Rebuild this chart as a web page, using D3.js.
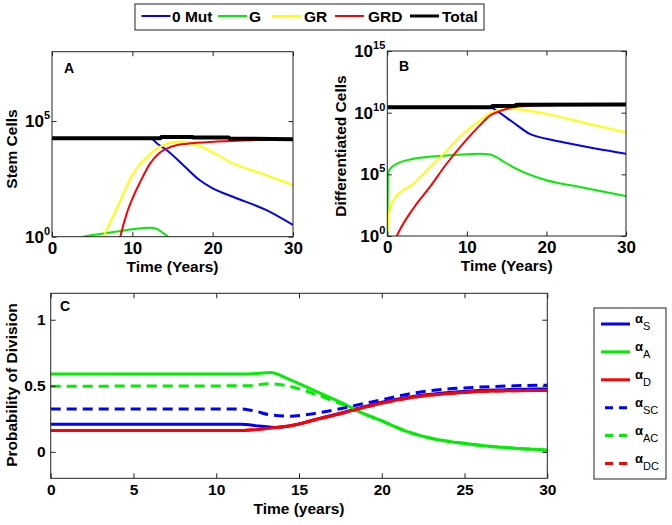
<!DOCTYPE html>
<html><head><meta charset="utf-8">
<script src="https://cdn.jsdelivr.net/npm/d3@7"></script>
<style>
body{margin:0;background:#fff}
svg{display:block}
text{font-family:"Liberation Sans",Arial,Helvetica,sans-serif;font-weight:bold;fill:#000}
</style>
</head><body>
<svg id="chart" width="672" height="525"></svg>
<script>
// ---------------- DATA ----------------
const popNames = ["0 Mut", "G", "GR", "GRD", "Total"];
const timeTicksAB = [0, 10, 20, 30];
const timeTicksC = [0, 5, 10, 15, 20, 25, 30];
const stemTicks = [1, 1e5];
const diffTicks = [1, 1e5, 1e10, 1e15];
const probTicks = [0, 0.5, 1];

// Panel A: stem cells  [year, count]
const stemMut0 = [[0,1.8e4],[12.2,1.8e4],[13.2,1.0e4],[14.3,5.5e3],[16.35,1.23e3],[18.4,275],[20,123],[22.6,52],[26.7,14],[30,3.2]];
const stemG = [[3.6,0.6],[3.9,1],[6,1.3],[8.1,1.66],[10,2.1],[12.2,2.45],[13,2.2],[13.7,1.55],[14.4,1],[14.8,0.6]];
const stemGR = [[6.1,0.6],[6.4,1],[8,15],[10.1,540],[12,3.2e3],[13.4,7.6e3],[14.5,1.1e4],[15.9,1.3e4],[18.4,8.1e3],[22.6,1.45e3],[26.7,457],[30,170]];
const stemGRD = [[8.3,0.5],[8.5,1],[9.3,10],[10.1,52],[11,240],[12.2,1.45e3],[13.3,4e3],[14.3,6.5e3],[15.5,9e3],[16.8,1.05e4],[20.5,1.3e4],[25,1.5e4],[30,1.6e4]];
const stemTotal = [[0,1.8e4],[13.5,1.8e4],[13.6,2.05e4],[17.5,2.05e4],[17.6,1.95e4],[22,1.95e4],[22.1,1.75e4],[30,1.65e4]];

// Panel B: differentiated cells  [year, count]
const diffMut0 = [[0,2.7e10],[13,2.7e10],[13.7,1.45e10],[15.8,1.66e9],[17.9,1.9e8],[20,7.6e7],[22.1,4e7],[26.3,1.17e7],[30,4.7e6]];
const diffG = [[0,0.5],[0.08,1.1e5],[0.3,2.5e5],[1.2,7.2e5],[3.3,1.8e6],[7.5,3.4e6],[11.6,4.7e6],[12.9,4e6],[13.7,2.5e6],[14.7,1e6],[15.8,3.9e5],[20,3.3e4],[24.2,9.5e3],[30,1.7e3]];
const diffGR = [[0,1.5],[0.2,68],[0.75,800],[3.3,1.8e4],[5.4,3.9e5],[7.5,8.7e6],[9.5,1.9e8],[11.6,2.2e9],[13.7,1.45e10],[15.8,2e10],[20,8e9],[25,1.4e9],[30,2.6e8]];
const diffGRD = [[1.0,0.5],[1.2,1],[3.27,170],[5.36,9.5e3],[7.45,7.2e5],[9.5,3e7],[11.6,8.9e8],[12.9,5.75e9],[14.3,1.45e10],[15.8,2.7e10],[18,3.6e10],[21.5,4.2e10]];
const diffTotal = [[0,2.7e10],[13,2.7e10],[13.2,3.4e10],[16,3.4e10],[16.2,4.3e10],[30,4.5e10]];

// Panel C: probability of division [year, probability]
const alphaS  = [[0,0.209],[11.5,0.209],[12.6,0.195],[13.6,0.185],[15,0.212],[15.9,0.242],[17.5,0.293],[18.9,0.34],[20,0.375],[21.9,0.42],[23.9,0.447],[25.9,0.465],[28,0.472],[30,0.476]];
const alphaA  = [[0,0.59],[12,0.59],[13.3,0.6],[14.3,0.555],[15.9,0.465],[17.9,0.352],[18.9,0.289],[19.9,0.24],[21.5,0.155],[22.9,0.105],[24,0.08],[25.9,0.05],[28,0.027],[30,0.013]];
const alphaD  = [[0,0.162],[11.5,0.162],[12.5,0.17],[13.65,0.185],[15,0.21],[15.87,0.239],[17.5,0.289],[18.9,0.335],[20,0.368],[21.9,0.413],[23.9,0.44],[25.9,0.457],[28,0.463],[30,0.465]];
const alphaSC = [[0,0.325],[11.5,0.325],[12.3,0.31],[13.25,0.28],[14.46,0.27],[15.87,0.289],[17.5,0.327],[18.9,0.365],[20,0.395],[21.9,0.445],[23.9,0.475],[25.9,0.49],[28,0.5],[30,0.505]];
const alphaAC = [[0,0.497],[11.8,0.5],[13.25,0.515],[14.3,0.5],[15.9,0.44],[17.5,0.365],[18.3,0.327],[18.9,0.289],[19.9,0.24],[21.5,0.155],[22.9,0.105],[24,0.08],[25.9,0.05],[28,0.027],[30,0.013]];
const alphaDC = [[0,0.162],[11.5,0.162],[12.5,0.17],[13.65,0.185],[15,0.21],[15.87,0.239],[17.5,0.289],[18.9,0.335],[20,0.368],[21.9,0.413],[23.9,0.44],[25.9,0.457],[28,0.463],[30,0.465]];
const alphaSubs = ["S", "A", "D", "SC", "AC", "DC"];

// ---------------- STYLE ----------------
const popColors = ["#0000ff", "#00ee00", "#ffff00", "#ff0000", "#000000"];
const alphaColors = ["#0000ff", "#00ee00", "#ff0000", "#0000ff", "#00ee00", "#ff0000"];
const alphaDash = [null, null, null, "10,6", "10,6", "10,6"];
const FONT = '"Liberation Sans",Arial,Helvetica,sans-serif';

const svg = d3.select("#chart");

function drawPanel(o) {
  const x = d3.scaleLinear().domain(o.xDomain).range([o.left, o.right]);
  const y = (o.log ? d3.scaleLog() : d3.scaleLinear()).domain(o.yDomain).range([o.bottom, o.top]);
  svg.append("clipPath").attr("id", "clip" + o.id).append("rect")
    .attr("x", o.left).attr("y", o.top).attr("width", o.right - o.left).attr("height", o.bottom - o.top);
  const lg = svg.append("g").attr("clip-path", `url(#clip${o.id})`);
  o.series.forEach(s => {
    const line = d3.line().x(d => x(d[0])).y(d => y(d[1]))
      .curve(s.step ? d3.curveLinear : d3.curveMonotoneX);
    lg.append("path").datum(s.data).attr("d", line).attr("fill", "none")
      .attr("stroke", s.color).attr("stroke-width", s.width)
      .attr("stroke-dasharray", s.dash || null)
      .attr("stroke-linejoin", "round");
  });
  const tk = o.tick;
  const axes = [
    [d3.axisBottom(x).tickValues(o.xTicks).tickPadding(o.xPad).tickFormat(d3.format("d")), `translate(0,${o.bottom})`, true, "x"],
    [d3.axisTop(x).tickValues(o.xTicks).tickFormat(""), `translate(0,${o.top})`, false, "x"],
    [d3.axisLeft(y).tickValues(o.yTicks).tickPadding(o.yPad), `translate(${o.left},0)`, true, "y"],
    [d3.axisRight(y).tickValues(o.yTicks).tickFormat(""), `translate(${o.right},0)`, false, "y"]
  ];
  axes.forEach(([ax, tr, labels, dim]) => {
    ax.tickSize(-tk).tickSizeOuter(0);
    if (dim === "y" && labels && !o.log) ax.tickFormat(d3.format("~g"));
    const g = svg.append("g").attr("transform", tr).call(ax);
    g.attr("font-family", FONT).attr("font-size", dim === "x" ? o.xFont : o.yFont).attr("font-weight", "bold");
    g.select(".domain").remove();
    g.selectAll(".tick line").attr("stroke", "#222");
    g.selectAll(".tick text").attr("fill", "#000");
    if (dim === "y" && labels && o.log) {
      g.selectAll(".tick text").each(function(d) {
        const t = d3.select(this);
        t.text("");
        t.append("tspan").text("10");
        t.append("tspan").attr("dy", -8).attr("font-size", 11).text(Math.round(Math.log10(d)));
      });
    }
  });
  svg.append("rect").attr("x", o.left).attr("y", o.top)
    .attr("width", o.right - o.left).attr("height", o.bottom - o.top)
    .attr("fill", "none").attr("stroke", "#222").attr("stroke-width", 1);
  svg.append("text").attr("x", o.labelX).attr("y", o.labelY).attr("font-size", 14).text(o.label);
  svg.append("text").attr("x", (o.left + o.right) / 2).attr("y", o.xTitleY)
    .attr("text-anchor", "middle").attr("font-size", 15.5).text(o.xTitle);
  svg.append("text").attr("transform", `translate(${o.yTitleX},${o.yTitleY}) rotate(-90)`)
    .attr("text-anchor", "middle").attr("font-size", 15.5).text(o.yTitle);
}

const popData = [stemMut0, stemG, stemGR, stemGRD, stemTotal];
const diffData = [diffMut0, diffG, diffGR, diffGRD, diffTotal];
const popWidth = i => (i === 4 ? 4 : 2);

drawPanel({
  id: "A", left: 52, right: 293, top: 51.7, bottom: 236.7,
  xDomain: [0, 30], yDomain: [1, 1e8], log: true,
  xTicks: timeTicksAB, yTicks: stemTicks, tick: 4.5, xPad: 5, yPad: 2,
  xFont: 17, yFont: 17,
  series: popData.map((d, i) => ({data: d, color: popColors[i], width: popWidth(i), step: i === 4})),
  label: "A", labelX: 64, labelY: 73,
  xTitle: "Time (Years)", xTitleY: 272, yTitle: "Stem Cells", yTitleX: 17, yTitleY: 149
});

drawPanel({
  id: "B", left: 387.3, right: 626, top: 51, bottom: 236,
  xDomain: [0, 30], yDomain: [1, 1e15], log: true,
  xTicks: timeTicksAB, yTicks: diffTicks, tick: 4.5, xPad: 5, yPad: 2,
  xFont: 17, yFont: 17,
  series: diffData.map((d, i) => ({data: d, color: popColors[i], width: popWidth(i), step: i === 4})),
  label: "B", labelX: 399, labelY: 71,
  xTitle: "Time (Years)", xTitleY: 271, yTitle: "Differentiated Cells", yTitleX: 346, yTitleY: 146
});

const alphaData = [alphaS, alphaA, alphaD, alphaSC, alphaAC, alphaDC];
drawPanel({
  id: "C", left: 50.7, right: 547.3, top: 293.3, bottom: 478.3,
  xDomain: [0, 30], yDomain: [-0.2, 1.2], log: false,
  xTicks: timeTicksC, yTicks: probTicks, tick: 5, xPad: 6, yPad: 5,
  xFont: 15.5, yFont: 15.5,
  series: alphaData.map((d, i) => ({data: d, color: alphaColors[i], width: 3, dash: alphaDash[i]})),
  label: "C", labelX: 60, labelY: 311,
  xTitle: "Time (years)", xTitleY: 514, yTitle: "Probability of Division", yTitleX: 17, yTitleY: 385
});

// Top legend
const topLeg = svg.append("g");
topLeg.append("rect").attr("x", 135).attr("y", 4).attr("width", 349).attr("height", 26)
  .attr("fill", "#fff").attr("stroke", "#222");
const legLineX = [141.5, 218, 272, 335, 410];
const legTextX = [172, 249, 304, 368, 442];
popNames.forEach((n, i) => {
  topLeg.append("line").attr("x1", legLineX[i]).attr("x2", legLineX[i] + 29)
    .attr("y1", 16).attr("y2", 16).attr("stroke", popColors[i]).attr("stroke-width", i === 4 ? 3 : 2);
  topLeg.append("text").attr("x", legTextX[i]).attr("y", 22).attr("font-size", 15.5).text(n);
});

// Right legend
const rLeg = svg.append("g");
rLeg.append("rect").attr("x", 594).attr("y", 308).attr("width", 72).attr("height", 171)
  .attr("fill", "#fff").attr("stroke", "#222");
alphaSubs.forEach((s, i) => {
  const yy = 324 + i * 27.9;
  const dashed = !!alphaDash[i];
  rLeg.append("line").attr("x1", dashed ? 605 : 601).attr("x2", dashed ? 628 : 630)
    .attr("y1", yy).attr("y2", yy).attr("stroke", alphaColors[i]).attr("stroke-width", 3)
    .attr("stroke-dasharray", dashed ? "8,6" : null);
  const t = rLeg.append("text").attr("x", 635).attr("y", yy - 1).attr("font-size", 13);
  t.append("tspan").text("α");
  t.append("tspan").attr("dy", 7).attr("font-size", 11).attr("font-weight", "normal").text(s);
});
</script>
</body></html>
